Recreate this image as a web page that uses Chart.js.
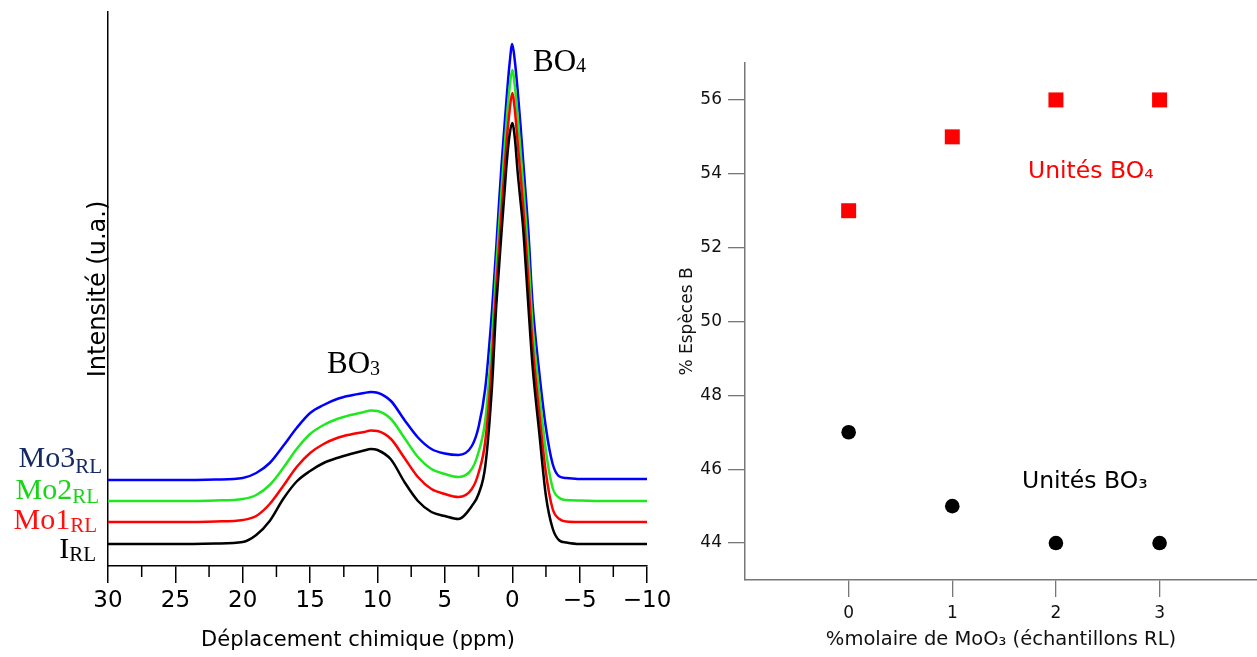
<!DOCTYPE html>
<html lang="fr">
<head>
<meta charset="UTF-8" />
<title>RMN 11B — échantillons RL</title>
<script src="https://cdn.jsdelivr.net/npm/chart.js"></script>
<style>
  html, body { margin: 0; padding: 0; background: #fff; }
  body { width: 1257px; height: 657px; position: relative; overflow: hidden; }
  #spectra { position: absolute; left: 0; top: 0; }
  #species { position: absolute; left: 660px; top: 0; }
</style>
</head>
<body>
<canvas id="spectra" width="680" height="657"></canvas>
<canvas id="species" width="597" height="657"></canvas>

<script>
// --- spectres RMN (intensité en u.a., décalée par échantillon) ---
const ppm = [30, 25, 22, 20, 19, 18, 17, 16, 15, 14, 13, 12, 11, 10.5, 10, 9, 8, 7, 6, 5, 4, 3,
             2.5, 2, 1.5, 1.2, 1.0, 0.8, 0.6, 0.4, 0.2, 0, -0.2, -0.4, -0.6, -0.8, -1.0, -1.2,
             -1.5, -2, -2.5, -3, -3.5, -4, -5, -7, -10];
const irl = [22, 22, 22.5, 24, 31, 45, 67, 84.5, 95, 103, 108, 112, 115.5, 117, 116, 106.5, 84, 65, 54, 50, 47, 60,
             72, 100, 180, 257, 295, 333, 369, 405, 431, 443, 427, 394, 366.5, 339, 300, 259,
             201, 134, 70, 37.5, 25.5, 23.5, 22, 22, 22];
const mo1 = [44, 44, 44.5, 46, 50, 62, 80, 99, 113, 122, 128, 131.5, 134, 135.5, 135, 127, 108, 89, 77, 72, 69, 77,
             93, 125, 205, 275, 315, 354, 391, 427, 455, 473, 455, 424, 393, 361, 324, 285,
             222, 154, 93, 57, 47, 44.5, 44, 44, 44];
const mo2 = [65, 65, 65.5, 67, 71, 81, 98, 117, 132, 141, 147, 151, 154, 155.5, 155, 147, 128, 109, 97, 92, 89, 97,
             114, 146, 228, 295, 336, 376, 413, 449, 478, 496, 479, 450, 418, 384, 348, 310,
             243, 174, 115, 78, 68, 66, 65.5, 65, 65];
const mo3 = [86, 86, 86.5, 88, 93, 103, 120, 138, 153, 161, 167, 170.5, 173, 174, 173.3, 165, 146, 128.5, 117, 112.5, 111, 120,
             139, 178, 256, 316, 359, 400, 436, 471, 502, 522, 504, 476, 443, 407, 371, 334,
             264, 194, 138, 102, 89.5, 88, 87, 87, 87];
const sampleNames = ['I', 'Mo1', 'Mo2', 'Mo3'];
const xMajorTicks = [30, 25, 20, 15, 10, 5, 0, -5, -10];
const xMinorTicks = [27.5, 22.5, 17.5, 12.5, 7.5, 2.5, -2.5, -7.5];

// --- % espèces B ---
const moO3 = [0, 1, 2, 3];
const bo4Units = [53, 55, 56, 56];
const bo3Units = [47, 45, 44, 44];
const yTicksRight = [44, 46, 48, 50, 52, 54, 56];
const xTicksRight = [0, 1, 2, 3];

const curveColors = ['#000000', '#ff0000', '#1ee81e', '#0000ff'];
const nameColors = ['#000000', '#ff1010', '#19d419', '#142a63'];

function withSub(ctx, x, y, main, sub, size, subSize, drop, align) {
  ctx.font = size + 'px "Liberation Serif"';
  const w1 = ctx.measureText(main).width;
  ctx.font = subSize + 'px "Liberation Serif"';
  const w2 = ctx.measureText(sub).width;
  const x0 = align === 'right' ? x - w1 - w2 : x;
  ctx.textAlign = 'left';
  ctx.textBaseline = 'alphabetic';
  ctx.font = size + 'px "Liberation Serif"';
  ctx.fillText(main, x0, y);
  ctx.font = subSize + 'px "Liberation Serif"';
  ctx.fillText(sub, x0 + w1, y + drop);
}

const spectraLabels = {
  id: 'spectraLabels',
  afterDraw(chart) {
    const { ctx, chartArea, scales: { x } } = chart;
    ctx.save();
    // petites graduations
    ctx.strokeStyle = '#000';
    ctx.lineWidth = 1.5;
    xMinorTicks.forEach(v => {
      const px = x.getPixelForValue(v);
      ctx.beginPath();
      ctx.moveTo(px, chartArea.bottom);
      ctx.lineTo(px, chartArea.bottom + 11);
      ctx.stroke();
    });
    ctx.fillStyle = '#000';
    ctx.font = '21px "DejaVu Sans"';
    ctx.textAlign = 'center';
    ctx.textBaseline = 'middle';
    ctx.fillText('Déplacement chimique (ppm)', 358, 641);

    // noms des échantillons
    const spots = [[96, 558, 3], [97, 529, 3], [99, 499, 4], [102, 467, 6]];
    sampleNames.forEach((n, i) => {
      ctx.fillStyle = nameColors[i];
      withSub(ctx, spots[i][0], spots[i][1], n, 'RL', 30, 21, spots[i][2], 'right');
    });

    ctx.fillStyle = '#000';
    withSub(ctx, 327, 373, 'BO', '3', 31, 20, 2, 'left');
    withSub(ctx, 533, 71, 'BO', '4', 31, 20, 1, 'left');
    ctx.restore();
  }
};

const series = [irl, mo1, mo2, mo3];
new Chart(document.getElementById('spectra'), {
  type: 'line',
  data: {
    datasets: series.map((vals, i) => ({
      label: sampleNames[i] + 'RL',
      data: ppm.map((p, j) => ({ x: p, y: vals[j] })),
      borderColor: curveColors[i],
      borderWidth: 2.5,
      pointRadius: 0,
      fill: false,
      cubicInterpolationMode: 'monotone'
    }))
  },
  options: {
    responsive: false,
    animation: false,
    layout: { autoPadding: false, padding: { top: 12, right: 33, bottom: 0, left: 0 } },
    plugins: { legend: { display: false }, tooltip: { enabled: false } },
    scales: {
      x: {
        type: 'linear', reverse: true, min: -10, max: 30,
        afterBuildTicks: s => { s.ticks = xMajorTicks.map(v => ({ value: v })); },
        afterFit: s => { s.height = 91; s.paddingLeft = 0; s.paddingRight = 0; },
        grid: { drawOnChartArea: false, tickLength: 17, color: '#000', lineWidth: 1.5 },
        border: { color: '#000', width: 1.5 },
        ticks: {
          padding: 4, color: '#000', maxRotation: 0, autoSkip: false,
          font: { family: 'DejaVu Sans', size: 23 },
          callback: v => v < 0 ? '\u2212' + Math.abs(v) : String(v)
        }
      },
      y: {
        min: 0, max: 554,
        afterFit: s => { s.width = 108; },
        grid: { display: false, drawTicks: false },
        ticks: { display: false },
        border: { display: true, color: '#000', width: 1.5 },
        title: {
          display: true, text: 'Intensité (u.a.)', color: '#000',
          font: { family: 'DejaVu Sans', size: 24 },
          padding: { top: 84, bottom: 0 }
        }
      }
    }
  },
  plugins: [spectraLabels]
});

const speciesLabels = {
  id: 'speciesLabels',
  afterDraw(chart) {
    const { ctx } = chart;
    ctx.save();
    ctx.font = '23.5px "DejaVu Sans"';
    ctx.textAlign = 'left';
    ctx.textBaseline = 'alphabetic';
    ctx.fillStyle = '#ff0000';
    ctx.fillText('Unités BO\u2084', 368, 178);
    ctx.fillStyle = '#000';
    ctx.fillText('Unités BO\u2083', 362, 488);
    ctx.restore();
  }
};

const tickFont = { family: 'DejaVu Sans', size: 17 };
new Chart(document.getElementById('species'), {
  type: 'scatter',
  data: {
    datasets: [
      {
        label: 'Unités BO\u2084',
        data: moO3.map((m, i) => ({ x: m, y: bo4Units[i] })),
        pointStyle: 'rect', pointRadius: 10.6, borderWidth: 0,
        backgroundColor: '#ff0000'
      },
      {
        label: 'Unités BO\u2083',
        data: moO3.map((m, i) => ({ x: m, y: bo3Units[i] })),
        pointStyle: 'circle', pointRadius: 7.3, borderWidth: 0,
        backgroundColor: '#000000'
      }
    ]
  },
  options: {
    responsive: false,
    animation: false,
    layout: { autoPadding: false, padding: { top: 63, right: 0, bottom: 0, left: 0 } },
    plugins: { legend: { display: false }, tooltip: { enabled: false } },
    scales: {
      x: {
        type: 'linear', min: -1, max: 3.94,
        afterBuildTicks: s => { s.ticks = xTicksRight.map(v => ({ value: v })); },
        afterFit: s => { s.height = 77; s.paddingLeft = 0; s.paddingRight = 0; },
        grid: { drawOnChartArea: false, tickLength: 17, color: '#777', lineWidth: 1.3 },
        border: { color: '#777', width: 1.5 },
        ticks: { padding: 6, color: '#111', font: tickFont },
        title: {
          display: true, text: '%molaire de MoO\u2083 (échantillons RL)', color: '#111',
          font: { family: 'DejaVu Sans', size: 19.5 }, padding: { top: 0, bottom: 5 }
        }
      },
      y: {
        min: 43, max: 57,
        afterBuildTicks: s => { s.ticks = yTicksRight.map(v => ({ value: v })); },
        afterFit: s => { s.width = 85; },
        grid: { drawOnChartArea: false, tickLength: 17, color: '#777', lineWidth: 1.3 },
        border: { color: '#777', width: 1.5 },
        ticks: { padding: 6, color: '#111', font: tickFont },
        title: {
          display: true, text: '% Espèces B', color: '#111',
          font: tickFont, padding: { top: 17, bottom: 0 }
        }
      }
    }
  },
  plugins: [speciesLabels]
});
</script>
</body>
</html>
